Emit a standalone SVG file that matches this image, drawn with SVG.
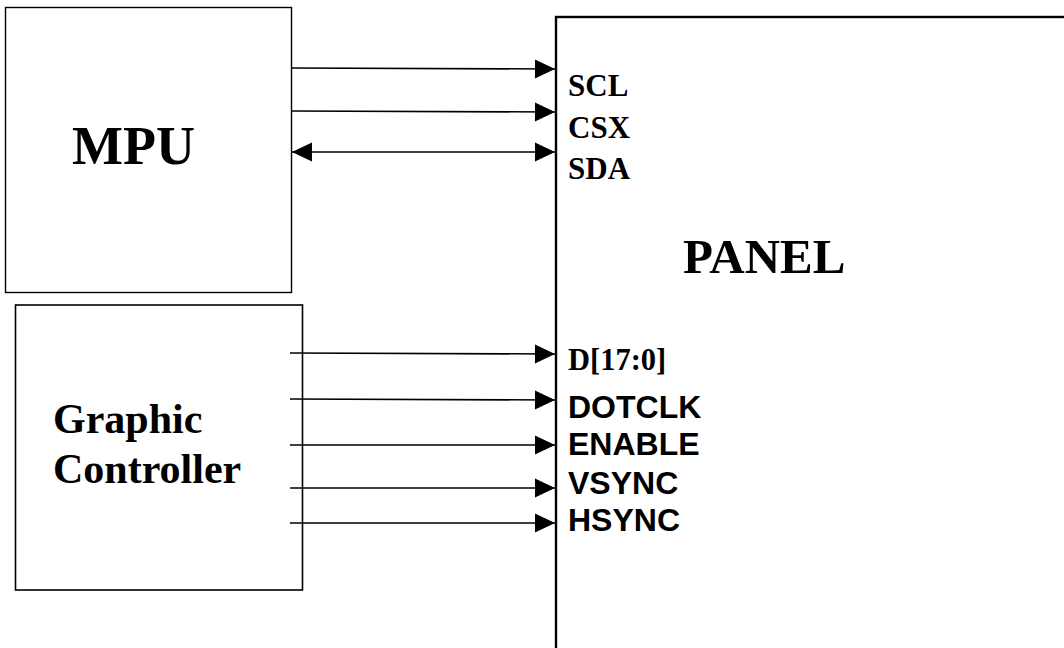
<svg xmlns="http://www.w3.org/2000/svg" width="1064" height="648" viewBox="0 0 1064 648">
<style>
.box{fill:#fff;stroke:#000}
.ser{font-family:"Liberation Serif","Times New Roman",serif;font-weight:bold;fill:#000}
.san{font-family:"Liberation Sans",Arial,sans-serif;font-weight:bold;fill:#000}
.wire{stroke:#000;stroke-width:1.6;fill:none}
</style>
<defs>
<marker id="ah" markerUnits="userSpaceOnUse" markerWidth="22" markerHeight="22" viewBox="0 0 22 22" refX="21" refY="11" orient="auto-start-reverse">
<path d="M1,1.5 L21,11 L1,20.5 Z" fill="#000"/>
</marker>
</defs>
<g id="panel">
<rect class="box" x="556" y="17" width="620" height="700" stroke-width="2.4"/>
<text class="ser" x="683" y="273" font-size="49">PANEL</text>
<text class="ser" x="568" y="96" font-size="31">SCL</text>
<text class="ser" x="568" y="138" font-size="31">CSX</text>
<text class="ser" x="568" y="179" font-size="31">SDA</text>
<text class="ser" x="568" y="370" font-size="30.5">D[17:0]</text>
<text class="san" x="568" y="418" font-size="32">DOTCLK</text>
<text class="san" x="568" y="455" font-size="32">ENABLE</text>
<text class="san" x="568" y="494" font-size="32">VSYNC</text>
<text class="san" x="568" y="531" font-size="32">HSYNC</text>
</g>
<g id="mpu">
<rect class="box" x="5.5" y="7.5" width="286" height="285" stroke-width="1.4"/>
<text class="ser" x="72" y="164" font-size="54">MPU</text>
</g>
<g id="graphic-controller">
<rect class="box" x="15.5" y="305" width="287" height="285" stroke-width="1.6"/>
<text class="ser" x="53" y="433" font-size="42">Graphic</text>
<text class="ser" x="53" y="483" font-size="42">Controller</text>
</g>
<g id="connectors">
<line class="wire" x1="291" y1="68" x2="555" y2="69" marker-end="url(#ah)"/>
<line class="wire" x1="291" y1="111" x2="555" y2="112" marker-end="url(#ah)"/>
<line class="wire" x1="292" y1="152" x2="555" y2="152" marker-start="url(#ah)" marker-end="url(#ah)"/>
<line class="wire" x1="290" y1="353" x2="555" y2="354" marker-end="url(#ah)"/>
<line class="wire" x1="290" y1="399" x2="555" y2="400" marker-end="url(#ah)"/>
<line class="wire" x1="290" y1="445" x2="555" y2="445" marker-end="url(#ah)"/>
<line class="wire" x1="290" y1="488" x2="555" y2="488" marker-end="url(#ah)"/>
<line class="wire" x1="290" y1="523" x2="555" y2="523" marker-end="url(#ah)"/>
</g>
</svg>
